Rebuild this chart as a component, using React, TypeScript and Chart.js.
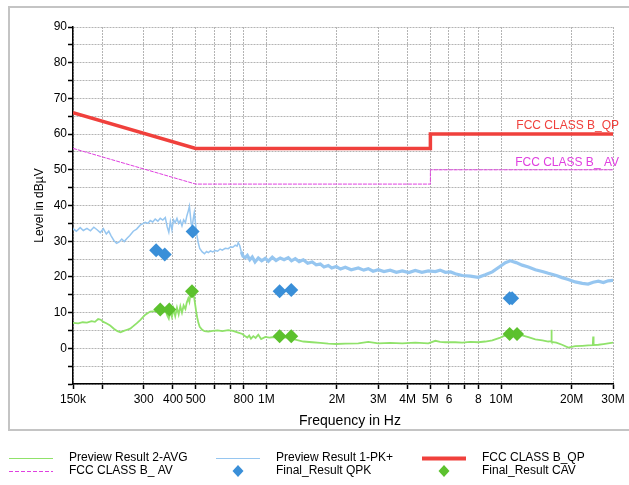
import React, { useEffect, useRef } from "react";
import { Chart, registerables } from "chart.js";

Chart.register(...registerables);

const FONT = '"Liberation Sans", Arial, sans-serif';

// Preview Result 1-PK+ (frequency in kHz, level in dBµV)
const pkFreqKHz = [
  150, 155, 161, 166, 172, 178, 184, 190, 196, 202,
  208, 213, 218, 224, 230, 236, 242, 248, 255, 262,
  271, 280, 290, 298, 305, 313, 320, 328, 336, 345,
  353, 362, 371, 378, 384, 390, 396, 402, 409, 416,
  423, 430, 437, 444, 452, 458, 465, 470, 474, 478,
  483, 488, 493, 498, 503, 508, 513, 520, 533, 545,
  556, 566, 578, 590, 606, 620, 635, 649, 668, 688,
  705, 720, 737, 750, 759, 770, 782, 795, 813, 830,
  850, 871, 895, 924, 955, 990, 1020, 1060, 1100, 1146,
  1190, 1240, 1280, 1328, 1380, 1437, 1500, 1569, 1630, 1698,
  1760, 1836, 1900, 1986, 2070, 2170, 2300, 2465, 2600, 2719,
  2850, 3000, 3170, 3370, 3580, 3795, 4050, 4310, 4600, 4900,
  5250, 5500, 5790, 6100, 6380, 6840, 7400, 8000, 8570, 9180,
  9930, 10430, 10950, 11600, 12300, 13070, 14000, 15000, 15900, 17200,
  18200, 19350, 20700, 22200, 23500, 24700, 26000, 27300, 28600, 30000,
];
const pkLevel = [
  33.5, 32.8, 33.8, 33.0, 33.6, 32.9, 33.9, 33.2, 32.4, 33.5,
  32.0, 32.8, 31.5, 30.2, 29.4, 29.8, 30.6, 29.9, 30.8, 31.6,
  32.8, 33.4, 34.5, 34.9, 35.3, 35.0, 35.8, 35.4, 36.2, 35.6,
  36.4, 35.9, 36.6, 34.0, 32.5, 35.5, 33.2, 36.0, 35.2, 36.4,
  35.0, 35.8, 34.3, 36.0, 35.2, 37.0, 38.5, 39.8, 37.5, 35.0,
  34.0, 36.2, 38.0, 35.5, 32.6, 31.0, 29.5, 28.0, 27.0, 26.5,
  27.1, 26.8, 27.3, 27.0, 27.4, 27.2, 27.8, 27.5, 28.0, 27.9,
  28.4, 28.3, 28.9, 28.6, 29.6, 28.8, 27.0, 25.8, 25.4, 26.0,
  24.8, 25.6, 24.2, 25.3, 24.5, 25.2, 24.4, 25.5, 24.6, 25.3,
  24.8, 25.4, 24.5, 25.1, 24.3, 24.8, 23.8, 24.2, 23.4, 23.6,
  22.8, 23.2, 22.5, 22.9, 22.2, 22.7, 22.0, 22.5, 21.9, 22.3,
  21.6, 22.0, 21.5, 21.9, 21.3, 21.7, 21.2, 21.8, 21.3, 21.7,
  21.5, 21.9, 21.3, 21.4, 20.9, 20.4, 20.2, 19.9, 20.6, 21.4,
  23.0, 24.0, 24.5, 24.0, 23.3, 22.8, 22.0, 21.5, 21.0, 20.4,
  19.8, 19.3, 18.6, 18.2, 18.0, 18.5, 18.8, 18.4, 18.9, 19.0,
];

// Preview Result 2-AVG
const avgFreqKHz = [
  150, 158, 165, 172, 180, 186, 192, 197, 202, 208,
  216, 224, 232, 239, 247, 255, 263, 271, 280, 290,
  298, 305, 313, 320, 336, 353, 362, 371, 378, 384,
  390, 396, 402, 409, 416, 423, 430, 437, 444, 452,
  458, 465, 470, 476, 482, 488, 493, 498, 503, 508,
  513, 520, 533, 545, 566, 590, 620, 649, 688, 720,
  759, 790, 813, 830, 845, 860, 880, 900, 924, 950,
  990, 1030, 1060, 1146, 1240, 1328, 1437, 1569, 1698, 1836,
  1986, 2170, 2465, 2719, 3000, 3370, 3795, 4310, 4900, 5250,
  5500, 5790, 6380, 6840, 7400, 8000, 8570, 9180, 9930, 10430,
  10950, 11600, 12300, 13070, 14000, 15000, 15900, 16350, 16400, 16450,
  17200, 18200, 19350, 20700, 22200, 23500, 24600, 24700, 24800, 26000,
  27300, 28600, 30000,
];
const avgLevel = [
  7.1, 7.0, 7.3, 7.2, 7.6, 7.4, 8.2, 8.0, 7.4, 7.0,
  6.4, 5.5, 4.8, 4.5, 4.9, 5.2, 5.5, 6.2, 7.0, 7.9,
  8.7, 9.4, 9.9, 10.3, 10.4, 10.6, 10.0, 10.8, 9.2, 8.3,
  10.6, 8.8, 11.0, 9.0, 11.4, 9.5, 11.8, 10.0, 12.0, 11.0,
  12.8, 14.0, 13.0, 15.5, 16.3, 15.2, 14.0, 12.0, 10.0, 8.5,
  7.2, 6.0, 5.2, 4.8, 4.7, 4.9, 5.0, 4.8, 5.1, 4.9,
  4.4, 4.0, 3.4, 3.0, 3.6, 2.7, 3.4, 2.9, 3.8, 2.6,
  3.2, 3.0, 3.1, 3.1, 3.0, 2.4, 1.9, 1.7, 1.5, 1.3,
  1.2, 1.3, 1.4, 1.8, 1.4, 1.5, 1.4, 1.6, 1.4, 2.1,
  1.8, 1.7, 1.7, 1.6, 1.8, 1.7, 1.9, 2.2, 3.0, 3.6,
  4.0, 3.9, 3.6, 3.1, 2.5, 2.2, 1.9, 2.0, 5.2, 1.8,
  1.6, 1.0, 0.2, 0.6, 0.7, 0.8, 0.9, 3.3, 0.9, 1.0,
  1.2, 1.4, 1.6,
];

// Limit lines
const qpLimitFreqKHz = [150, 500, 5000, 5000, 30000];
const qpLimitLevel = [66, 56, 56, 60, 60];
const avLimitFreqKHz = [150, 500, 5000, 5000, 30000];
const avLimitLevel = [56, 46, 46, 50, 50];

// Final results
const qpkFreqKHz = [339, 369, 485, 1139, 1277, 10880, 11150];
const qpkLevel = [27.5, 26.3, 32.7, 16.0, 16.3, 14.0, 14.0];
const cavFreqKHz = [353, 386, 482, 1139, 1277, 10880, 11700];
const cavLevel = [10.9, 10.9, 16.0, 3.4, 3.4, 4.0, 4.0];

// Axes
const xTickValuesKHz = [150, 200, 300, 400, 500, 600, 700, 800, 1000, 2000, 3000, 4000, 5000, 6000, 7000, 8000, 10000, 20000, 30000];
const xTickLabels = ["150k", "", "300", "400", "500", "", "", "800", "1M", "2M", "3M", "4M", "5M", "6", "", "8", "10M", "20M", "30M"];
const yTickValues = [-10, -5, 0, 5, 10, 15, 20, 25, 30, 35, 40, 45, 50, 55, 60, 65, 70, 75, 80, 85, 90];

const QP_LABEL = "FCC CLASS B_QP";
const AV_LABEL = "FCC CLASS B_ AV";
const X_TITLE = "Frequency in Hz";
const Y_TITLE = "Level in dBµV";

const C_PK = "#96c6f0";
const C_AVG = "#90e26a";
const C_QP = "#f0403c";
const C_AV = "#e040e0";
const C_QPK = "#3a8fd8";
const C_CAV = "#5cc12e";
const C_GRID = "#b4b4b4";

const toXY = (xs: number[], ys: number[]) => xs.map((x, i) => ({ x, y: ys[i] }));

const legendItems = [
  { kind: "line", color: C_AVG, width: 1, dash: [] as number[], text: "Preview Result 2-AVG" },
  { kind: "line", color: C_PK, width: 1, dash: [] as number[], text: "Preview Result 1-PK+" },
  { kind: "line", color: C_QP, width: 4, dash: [] as number[], text: "FCC CLASS B_QP" },
  { kind: "line", color: C_AV, width: 1, dash: [4, 2], text: "FCC CLASS B_ AV" },
  { kind: "diamond", color: C_QPK, width: 0, dash: [] as number[], text: "Final_Result QPK" },
  { kind: "diamond", color: C_CAV, width: 0, dash: [] as number[], text: "Final_Result CAV" },
];

const decorPlugin = {
  id: "decor",
  beforeDraw(chart: any) {
    const ctx = chart.ctx;
    ctx.save();
    ctx.fillStyle = "#ffffff";
    ctx.fillRect(0, 0, chart.width, chart.height);
    ctx.strokeStyle = "#c4c4c4";
    ctx.lineWidth = 2;
    ctx.strokeRect(9, 7, 660, 423);
    ctx.restore();
  },
  afterDraw(chart: any) {
    const ctx = chart.ctx;
    const ys = chart.scales.y;
    const area = chart.chartArea;
    ctx.save();
    // limit labels
    ctx.font = `12px ${FONT}`;
    ctx.textAlign = "right";
    ctx.textBaseline = "middle";
    ctx.fillStyle = C_QP;
    ctx.fillText(QP_LABEL, area.right + 6, ys.getPixelForValue(qpLimitLevel[qpLimitLevel.length - 1]) - 8);
    ctx.fillStyle = C_AV;
    ctx.fillText(AV_LABEL, area.right + 6, ys.getPixelForValue(avLimitLevel[avLimitLevel.length - 1]) - 7);

    // axis titles
    ctx.fillStyle = "#000";
    ctx.font = `14px ${FONT}`;
    ctx.textAlign = "center";
    ctx.fillText(X_TITLE, (area.left + area.right) / 2 + 7, 421);
    ctx.save();
    ctx.font = `12px ${FONT}`;
    ctx.translate(40, (area.top + area.bottom) / 2);
    ctx.rotate(-Math.PI / 2);
    ctx.fillText(Y_TITLE, 0, 0);
    ctx.restore();

    // legend
    const colX = [9, 216, 422];
    const rowY = [458, 471];
    ctx.font = `12px ${FONT}`;
    ctx.textAlign = "left";
    legendItems.forEach((it, i) => {
      const cx = colX[i % 3];
      const cy = rowY[Math.floor(i / 3)];
      if (it.kind === "line") {
        ctx.save();
        ctx.strokeStyle = it.color;
        ctx.lineWidth = it.width;
        ctx.setLineDash(it.dash);
        ctx.beginPath();
        ctx.moveTo(cx, cy + 0.5);
        ctx.lineTo(cx + 44, cy + 0.5);
        ctx.stroke();
        ctx.restore();
      } else {
        const mx = cx + 22;
        ctx.fillStyle = it.color;
        ctx.beginPath();
        ctx.moveTo(mx, cy - 6);
        ctx.lineTo(mx + 5.5, cy);
        ctx.lineTo(mx, cy + 6);
        ctx.lineTo(mx - 5.5, cy);
        ctx.closePath();
        ctx.fill();
      }
      ctx.fillStyle = "#000";
      ctx.fillText(it.text, cx + 60, cy);
    });
    ctx.restore();
  },
};

export default function App() {
  const ref = useRef<HTMLCanvasElement | null>(null);
  useEffect(() => {
    if (!ref.current) return;
    const chart = new Chart(ref.current, {
      type: "line",
      data: {
        datasets: [
          {
            type: "scatter",
            label: "Final_Result QPK",
            data: toXY(qpkFreqKHz, qpkLevel),
            pointStyle: "rectRot",
            pointRadius: 7,
            backgroundColor: C_QPK,
            borderColor: C_QPK,
            borderWidth: 0,
            order: 1,
          },
          {
            type: "scatter",
            label: "Final_Result CAV",
            data: toXY(cavFreqKHz, cavLevel),
            pointStyle: "rectRot",
            pointRadius: 7,
            backgroundColor: C_CAV,
            borderColor: C_CAV,
            borderWidth: 0,
            order: 2,
          },
          {
            label: "FCC CLASS B_QP",
            data: toXY(qpLimitFreqKHz, qpLimitLevel),
            borderColor: C_QP,
            borderWidth: 3.5,
            pointRadius: 0,
            tension: 0,
            order: 3,
          },
          {
            label: "FCC CLASS B_ AV",
            data: toXY(avLimitFreqKHz, avLimitLevel),
            borderColor: C_AV,
            borderWidth: 1,
            borderDash: [4, 1],
            pointRadius: 0,
            tension: 0,
            order: 4,
          },
          {
            label: "Preview Result 1-PK+",
            data: toXY(pkFreqKHz, pkLevel),
            borderColor: C_PK,
            borderWidth: 1.5,
            pointRadius: 0,
            tension: 0,
            segment: {
              borderWidth: (c: any) => (c.p0.parsed.x >= 780 ? 3.2 : 1.5),
            },
            order: 5,
          },
          {
            label: "Preview Result 2-AVG",
            data: toXY(avgFreqKHz, avgLevel),
            borderColor: C_AVG,
            borderWidth: 1.8,
            pointRadius: 0,
            tension: 0,
            order: 6,
          },
        ],
      },
      options: {
        animation: false,
        responsive: false,
        maintainAspectRatio: false,
        layout: { padding: { left: 0, right: 16, top: 27, bottom: 71 } },
        plugins: { legend: { display: false }, tooltip: { enabled: false }, title: { display: false } },
        scales: {
          x: {
            type: "logarithmic",
            min: 150,
            max: 30000,
            afterBuildTicks: (s: any) => {
              s.ticks = xTickValuesKHz.map((v) => ({ value: v }));
            },
            afterFit: (s: any) => {
              s.height = 30;
            },
            ticks: {
              autoSkip: false,
              maxRotation: 0,
              minRotation: 0,
              padding: 3,
              color: "#000",
              font: { size: 12, family: FONT },
              callback: (_v: any, i: number) => xTickLabels[i],
            },
            grid: {
              color: C_GRID,
              lineWidth: 1,
              drawTicks: true,
              tickLength: 5,
              tickColor: "#000",
              tickWidth: 1.5,
            },
            border: { display: true, color: "#000", width: 1.5, dash: [2, 1] },
          },
          y: {
            type: "linear",
            min: -10,
            max: 90,
            afterBuildTicks: (s: any) => {
              s.ticks = yTickValues.map((v) => ({ value: v }));
            },
            afterFit: (s: any) => {
              s.width = 73;
            },
            ticks: {
              autoSkip: false,
              padding: 1,
              color: "#000",
              font: { size: 12, family: FONT },
              callback: (v: any) => (v % 10 === 0 && v !== -10 ? String(v) : ""),
            },
            grid: {
              color: C_GRID,
              lineWidth: 1,
              drawTicks: true,
              tickLength: 5,
              tickColor: "#000",
              tickWidth: 1.5,
            },
            border: { display: true, color: "#000", width: 1.5, dash: [2, 1] },
          },
        },
      },
      plugins: [decorPlugin],
    } as any);
    return () => chart.destroy();
  }, []);

  return (
    <div style={{ position: "absolute", left: 0, top: 0, width: 629, height: 485, background: "#fff" }}>
      <canvas ref={ref} width={629} height={485} style={{ display: "block" }} />
    </div>
  );
}
